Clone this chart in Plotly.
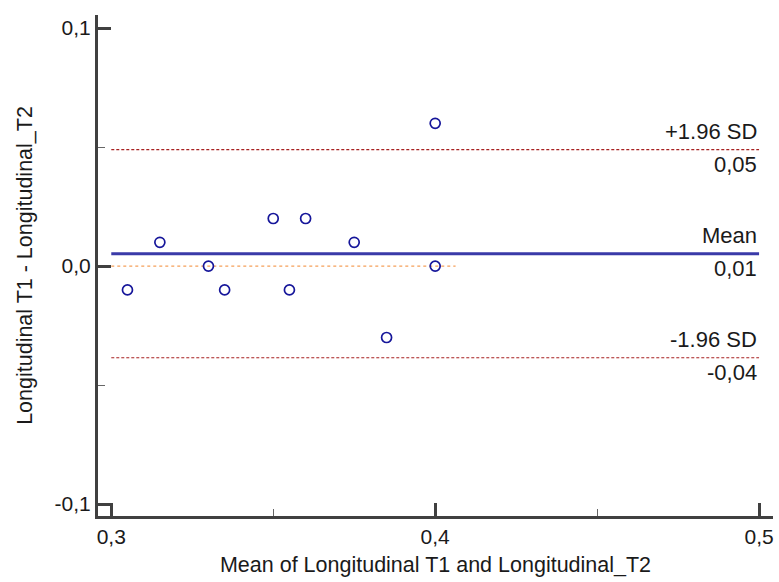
import plotly.graph_objects as go

# Data
mean_x = [0.305, 0.315, 0.330, 0.335, 0.350, 0.355, 0.360, 0.375, 0.385, 0.400, 0.400]
diff_y = [-0.01, 0.01, 0.00, -0.01, 0.02, -0.01, 0.02, 0.01, -0.03, 0.06, 0.00]

mean_diff = 0.0052
upper_loa = 0.0489
lower_loa = -0.0385
line_x = [0.3, 0.5]
zero_x = [0.3, 0.4063]

x_ticks = [0.3, 0.4, 0.5]
x_ticktext = ["0,3", "0,4", "0,5"]
y_ticks = [-0.1, 0.0, 0.1]
y_ticktext = ["-0,1", "0,0", "0,1"]

FONT = "Liberation Sans, Arial, sans-serif"
TXT = "#1a1a1a"
AX = "#404040"

fig = go.Figure()

# zero line (orange dotted)
fig.add_trace(go.Scatter(x=zero_x, y=[0, 0], mode="lines",
                         line=dict(color="#f5a05a", width=1.2, dash="dot"),
                         hoverinfo="skip", showlegend=False))
# limits of agreement
for v in (upper_loa, lower_loa):
    fig.add_trace(go.Scatter(x=line_x, y=[v, v], mode="lines",
                             line=dict(color="#a82020", width=1.2, dash="3px,2px"),
                             hoverinfo="skip", showlegend=False))
# mean line
fig.add_trace(go.Scatter(x=line_x, y=[mean_diff, mean_diff], mode="lines",
                         line=dict(color="#3a3aa8", width=3),
                         hoverinfo="skip", showlegend=False))
# points
fig.add_trace(go.Scatter(x=mean_x, y=diff_y, mode="markers",
                         marker=dict(symbol="circle-open", size=10,
                                     color="#16169a", line=dict(width=1.7)),
                         showlegend=False))

labels = [
    (upper_loa, "+1.96 SD", "0,05"),
    (mean_diff, "Mean", "0,01"),
    (lower_loa, "-1.96 SD", "-0,04"),
]
for v, top, bottom in labels:
    fig.add_annotation(x=0.5, y=v, text=top, showarrow=False, xanchor="right",
                       yanchor="middle", yshift=18, xshift=0,
                       font=dict(family=FONT, size=22, color=TXT))
    fig.add_annotation(x=0.5, y=v, text=bottom, showarrow=False, xanchor="right",
                       yanchor="middle", yshift=-15, xshift=0,
                       font=dict(family=FONT, size=22, color=TXT))

fig.update_layout(
    width=779, height=582,
    margin=dict(l=98, r=6, t=15, b=66),
    paper_bgcolor="white", plot_bgcolor="white",
    font=dict(family=FONT, size=21, color=TXT),
    showlegend=False,
)
fig.update_xaxes(
    range=[0.2959, 0.5043], showgrid=False, zeroline=False,
    showline=True, linecolor=AX, linewidth=3,
    ticks="inside", ticklen=13, tickwidth=3, tickcolor=AX,
    tickvals=x_ticks, ticktext=x_ticktext,
    minor=dict(ticks="inside", ticklen=7, tickwidth=1, tickcolor="#666666", dtick=0.05, tick0=0.3),
    title=dict(text="Mean of Longitudinal T1 and Longitudinal_T2", standoff=10,
               font=dict(family=FONT, size=21.5, color=TXT)),
    tickfont=dict(family=FONT, size=21, color=TXT),
)
fig.update_yaxes(
    range=[-0.105, 0.1055], showgrid=False, zeroline=False,
    showline=True, linecolor=AX, linewidth=3,
    ticks="inside", ticklen=13, tickwidth=3, tickcolor=AX,
    tickvals=y_ticks, ticktext=y_ticktext,
    minor=dict(ticks="inside", ticklen=7, tickwidth=1, tickcolor="#666666", dtick=0.05, tick0=0),
    title=dict(text="Longitudinal T1 - Longitudinal_T2", standoff=17,
               font=dict(family=FONT, size=21.5, color=TXT)),
    tickfont=dict(family=FONT, size=21, color=TXT),
)

fig.write_html("out.html")
